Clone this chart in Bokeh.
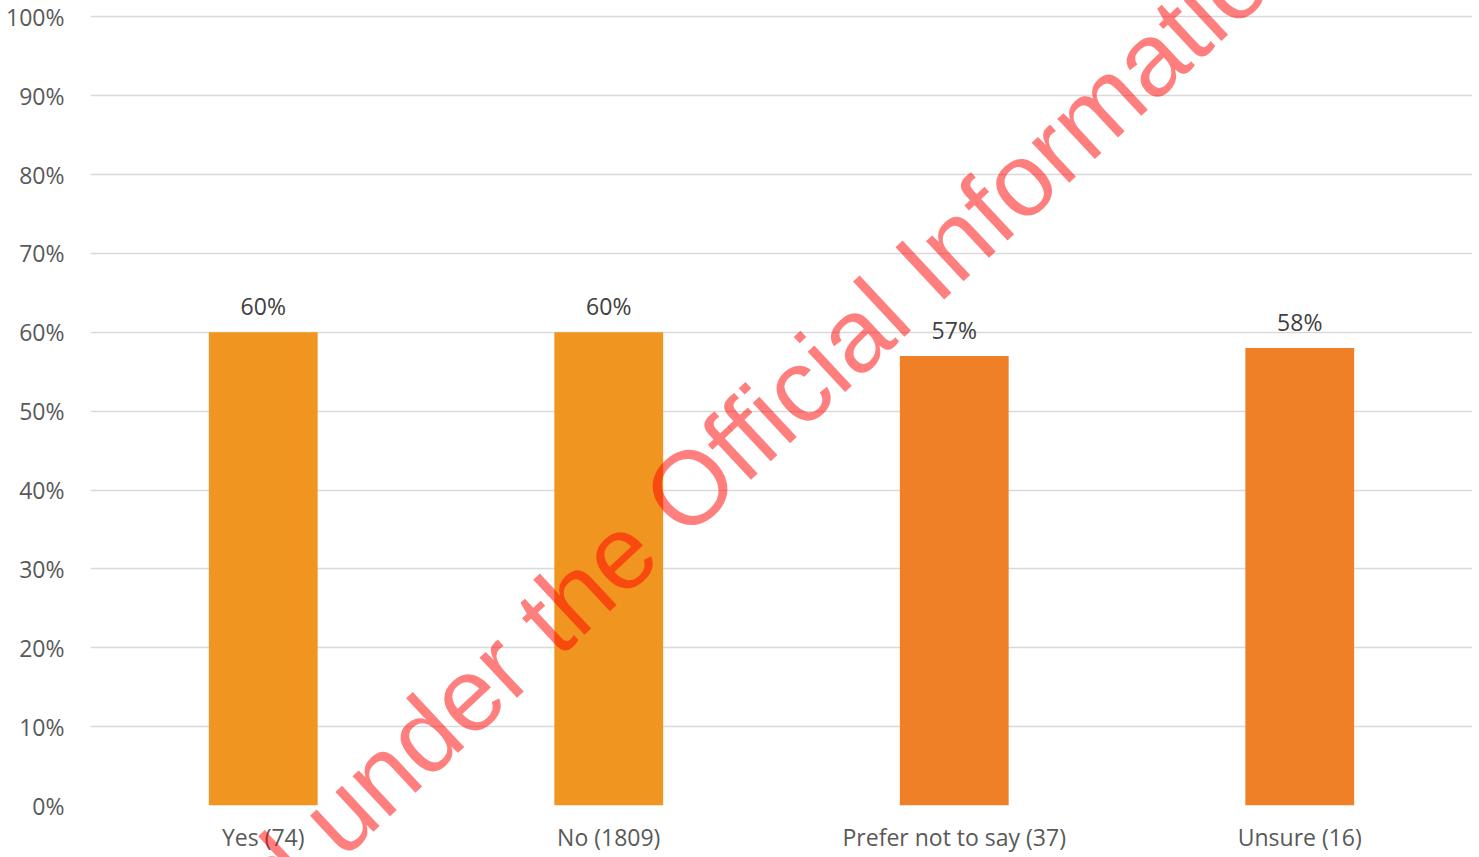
from bokeh.plotting import figure
from bokeh.models import Range1d, FactorRange, NumeralTickFormatter, FixedTicker, ColumnDataSource, GridBox, Div
from bokeh.core.properties import value
from bokeh.embed import file_html
from bokeh.resources import INLINE

categories = ["Yes (74)", "No (1809)", "Prefer not to say (37)", "Unsure (16)"]
values = [0.60, 0.60, 0.57, 0.58]
labels = ["60%", "60%", "57%", "58%"]
colors = ["#F0951F", "#F0951F", "#F08028", "#F08028"]
y_ticks = [0.0, 0.1, 0.2, 0.3, 0.4, 0.5, 0.6, 0.7, 0.8, 0.9, 1.0]
watermark = "Released under the Official Information Act"

FONT = "Open Sans"
W, H = 1479, 857

src = ColumnDataSource(dict(cat=categories, val=values, lab=labels, col=colors))

p = figure(width=W, height=H, x_range=FactorRange(*categories, range_padding=0),
           y_range=Range1d(0, 1.003), output_backend="svg", toolbar_location=None,
           min_border_left=90, min_border_right=7, min_border_top=14, min_border_bottom=52)
p.outline_line_color = None
p.background_fill_color = "white"
p.border_fill_color = "white"

p.vbar(x="cat", top="val", width=0.315, color="col", source=src, line_color=None)
p.text(x="cat", y="val", text="lab", source=src, text_align="center", text_baseline="alphabetic",
       y_offset=-26, text_font=value(FONT), text_font_size="23px", text_color="#404040")

p.xgrid.grid_line_color = None
p.ygrid.grid_line_color = "#D9D9D9"
p.ygrid.grid_line_width = 1.5
p.yaxis.ticker = FixedTicker(ticks=y_ticks)
p.yaxis.formatter = NumeralTickFormatter(format="0%")

for ax in (p.xaxis[0], p.yaxis[0]):
    ax.axis_line_color = None
    ax.major_tick_line_color = None
    ax.minor_tick_line_color = None
    ax.major_tick_in = 0
    ax.major_tick_out = 0
    ax.minor_tick_out = 0
    ax.major_label_text_font = FONT
    ax.major_label_text_font_size = "23px"
    ax.major_label_text_color = "#595959"
p.yaxis.major_label_standoff = 26
p.xaxis.major_label_standoff = 15

# watermark drawn on a transparent layer over the whole chart (not clipped to the plot frame)
wx, wy, wang = 0, 1180, 43
svg = (f'<svg xmlns="http://www.w3.org/2000/svg" width="{W}" height="{H}" '
       f'style="display:block;overflow:hidden;pointer-events:none">'
       f'<text x="{wx}" y="{wy}" transform="rotate(-{wang} {wx} {wy})" '
       f'font-family="Noto Sans" font-size="104" fill="#FF0000" fill-opacity="0.5">{watermark}</text></svg>')
wm = Div(text=svg, width=W, height=H, margin=0, styles={"pointer-events": "none"})

layout = GridBox(children=[(p, 0, 0), (wm, 0, 0)])

open("out.html", "w").write(file_html(layout, INLINE))
